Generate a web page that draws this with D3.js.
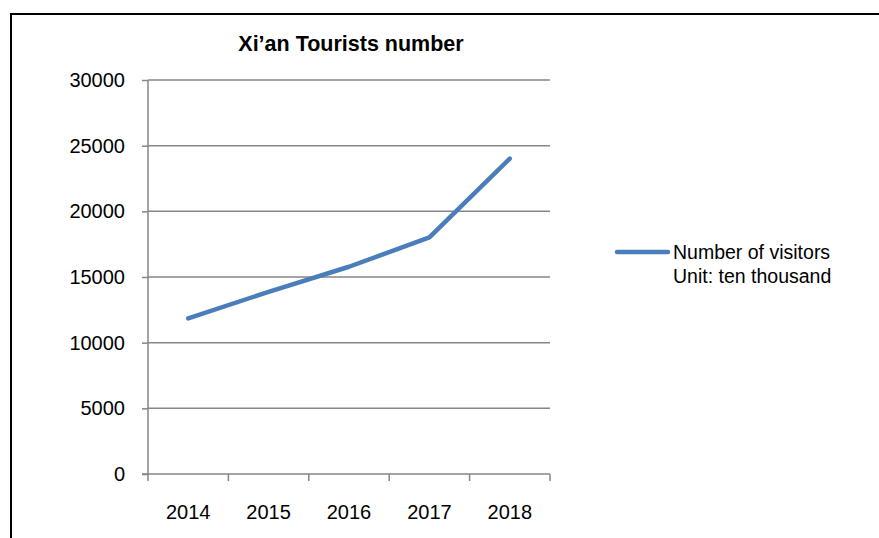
<!DOCTYPE html>
<html>
  <head>
    <script src="https://d3js.org/d3.v7.min.js" charset="utf-8"></script>
    <style>
      body { margin: 0; background: #fff; }
      text { font-family: "Liberation Sans", Arial, sans-serif; fill: #000; }
    </style>
  </head>
  <body>
    <svg id="chart" width="879" height="538"></svg>
    <script>
      var years = ["2014", "2015", "2016", "2017", "2018"];
      var visitors = [11850, 13870, 15780, 18010, 24020];
      var yTicks = [0, 5000, 10000, 15000, 20000, 25000, 30000];
      var title = "Xi\u2019an Tourists number";
      var legendLines = ["Number of visitors", "Unit: ten thousand"];

      var svg = d3.select("#chart");
      var pLeft = 148, pRight = 550, pTop = 80, pBottom = 474;

      // outer frame, runs off the right and bottom of the picture
      svg.append("rect")
        .attr("x", 11).attr("y", 14)
        .attr("width", 900).attr("height", 600)
        .attr("fill", "none").attr("stroke", "#000").attr("stroke-width", 2);

      var x = d3.scaleBand().domain(years).range([pLeft, pRight]);
      var y = d3.scaleLinear().domain([0, 30000]).range([pBottom, pTop]);

      // horizontal gridlines
      svg.append("g").selectAll("line").data(yTicks.filter(d => d > 0)).enter().append("line")
        .attr("x1", pLeft).attr("x2", pRight)
        .attr("y1", d => y(d)).attr("y2", d => y(d))
        .attr("stroke", "#868686").attr("stroke-width", 1.5);

      var yAxis = svg.append("g")
        .attr("transform", `translate(${pLeft},0)`)
        .call(d3.axisLeft(y).tickValues(yTicks).tickSize(6).tickPadding(17).tickFormat(d3.format("d")));
      yAxis.selectAll("line").attr("stroke", "#868686").attr("stroke-width", 1.5);
      yAxis.select(".domain").attr("stroke", "#868686").attr("stroke-width", 1.5).attr("d", `M0,${pTop}V${pBottom}`);
      yAxis.selectAll("text").attr("font-size", 20).attr("font-family", "Liberation Sans, Arial, sans-serif");

      // category boundaries as tick marks
      var bounds = years.map(d => x(d)).concat([pRight]);
      var xAxis = svg.append("g");
      xAxis.append("line")
        .attr("x1", pLeft - 6).attr("x2", pRight)
        .attr("y1", pBottom).attr("y2", pBottom)
        .attr("stroke", "#868686").attr("stroke-width", 1.5);
      xAxis.selectAll("line.tk").data(bounds).enter().append("line")
        .attr("class", "tk")
        .attr("x1", d => d).attr("x2", d => d)
        .attr("y1", pBottom).attr("y2", pBottom + 7)
        .attr("stroke", "#868686").attr("stroke-width", 1.5);
      xAxis.selectAll("text").data(years).enter().append("text")
        .text(d => d)
        .attr("x", d => x(d) + x.bandwidth() / 2)
        .attr("y", 519)
        .attr("font-size", 20)
        .attr("text-anchor", "middle");

      var line = d3.line()
        .x((d, i) => x(years[i]) + x.bandwidth() / 2)
        .y(d => y(d));

      svg.append("path")
        .datum(visitors)
        .attr("d", line)
        .attr("fill", "none")
        .attr("stroke", "#4a7ebb")
        .attr("stroke-width", 4.5)
        .attr("stroke-linecap", "round")
        .attr("stroke-linejoin", "round");

      svg.append("text")
        .text(title)
        .attr("x", 351).attr("y", 51)
        .attr("text-anchor", "middle")
        .attr("font-size", 21.5)
        .attr("font-weight", "bold");

      // legend
      svg.append("line")
        .attr("x1", 617).attr("x2", 668)
        .attr("y1", 252).attr("y2", 252)
        .attr("stroke", "#4a7ebb").attr("stroke-width", 4.5)
        .attr("stroke-linecap", "round");
      svg.selectAll("text.leg").data(legendLines).enter().append("text")
        .attr("class", "leg")
        .text(d => d)
        .attr("x", 673)
        .attr("y", (d, i) => 259 + i * 24)
        .attr("font-size", 19.5);
    </script>
  </body>
</html>
